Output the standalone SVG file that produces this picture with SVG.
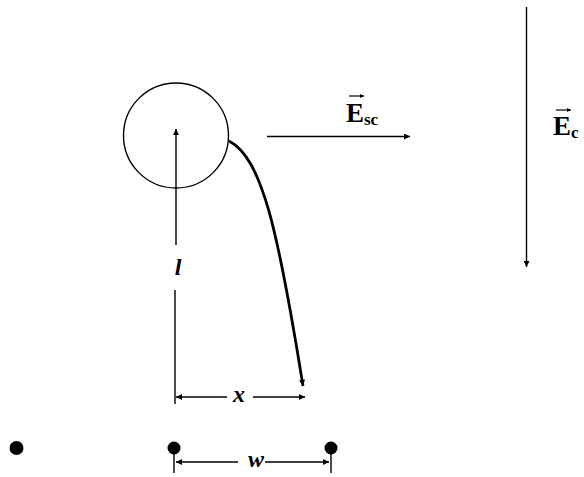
<svg xmlns="http://www.w3.org/2000/svg" width="584" height="477" viewBox="0 0 584 477">
<style>
.ln{stroke:#000;stroke-width:1.4;fill:none}
.lbl{font-family:"Liberation Serif","DejaVu Serif",serif;font-weight:bold;font-style:italic;font-size:24px;fill:#000;text-anchor:middle}
.vec{font-family:"Liberation Serif","DejaVu Serif",serif;font-weight:bold;fill:#000}
.dot{fill:#000}
</style>
<defs>
<marker id="ah" viewBox="0 0 10 10" refX="10" refY="5" markerWidth="8" markerHeight="6" markerUnits="userSpaceOnUse" orient="auto-start-reverse">
<path d="M0,0 L10,5 L0,10 z" fill="#000"/>
</marker>
<marker id="ahs" viewBox="0 0 10 10" refX="10" refY="5" markerWidth="5" markerHeight="4" markerUnits="userSpaceOnUse" orient="auto">
<path d="M0,0 L10,5 L0,10 z" fill="#000"/>
</marker>
</defs>
<g id="sphere">
<circle cx="176" cy="135.5" r="52.5" class="ln"/>
</g>
<g id="dot-left"><circle cx="16.5" cy="448" r="7" class="dot"/></g>
<g id="dot-mid"><circle cx="174" cy="448" r="6.5" class="dot"/></g>
<g id="dot-right"><circle cx="331" cy="448" r="6.5" class="dot"/></g>
<g id="label-Esc">
<text class="vec" x="346" y="122" font-size="27">E</text>
<text class="vec" x="364" y="125" font-size="17">sc</text>
<line x1="349" y1="96" x2="364" y2="96" stroke="#000" stroke-width="1.2" marker-end="url(#ahs)"/>
</g>
<g id="label-Ec">
<text class="vec" x="553" y="135" font-size="27">E</text>
<text class="vec" x="571" y="138" font-size="17">c</text>
<line x1="556" y1="110" x2="571" y2="110" stroke="#000" stroke-width="1.2" marker-end="url(#ahs)"/>
</g>
<g id="label-l"><text class="lbl" x="178" y="275" font-size="27">l</text></g>
<g id="label-x"><text class="lbl" x="239" y="402">x</text></g>
<g id="label-w"><text class="lbl" x="256" y="467">w</text></g>
<g id="connectors">
<line x1="176" y1="245" x2="176" y2="129" class="ln" marker-end="url(#ah)"/>
<line x1="175" y1="290" x2="175" y2="404" class="ln"/>
<path d="M229,141 C262,158 278,230 303,386" stroke="#000" stroke-width="2.8" fill="none" marker-end="url(#ah)"/>
<line x1="267" y1="136.5" x2="410" y2="136.5" class="ln" marker-end="url(#ah)"/>
<line x1="526.5" y1="7" x2="526.5" y2="267" class="ln" marker-end="url(#ah)"/>
<line x1="227" y1="397" x2="176" y2="397" class="ln" marker-end="url(#ah)"/>
<line x1="253" y1="397" x2="305" y2="397" class="ln" marker-end="url(#ah)"/>
<line x1="174" y1="448" x2="174" y2="473" class="ln"/>
<line x1="331" y1="448" x2="331" y2="473" class="ln"/>
<line x1="238" y1="462" x2="176" y2="462" class="ln" marker-end="url(#ah)"/>
<line x1="265" y1="462" x2="329" y2="462" class="ln" marker-end="url(#ah)"/>
</g>
</svg>
